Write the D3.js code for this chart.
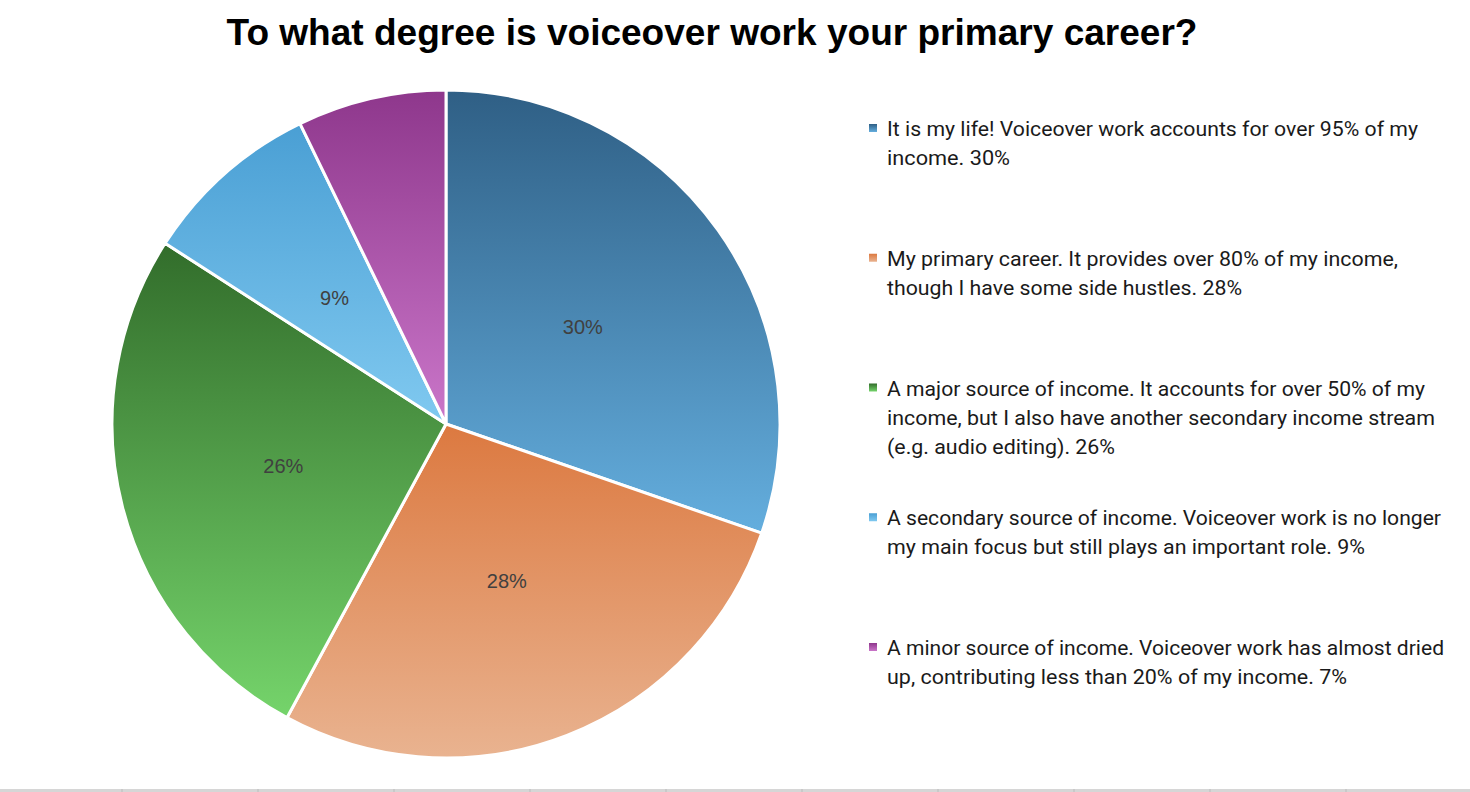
<!DOCTYPE html>
<html><head><meta charset="utf-8">
<script src="https://cdn.jsdelivr.net/npm/d3@7"></script>
<style>html,body{margin:0;padding:0;background:#fff;overflow:hidden}</style>
</head><body><svg id="chart" width="1470" height="792"></svg>
<script>
const title = "To what degree is voiceover work your primary career?";
const categories = [
  "It is my life! Voiceover work accounts for over 95% of my income.",
  "My primary career. It provides over 80% of my income, though I have some side hustles.",
  "A major source of income. It accounts for over 50% of my income, but I also have another secondary income stream (e.g. audio editing).",
  "A secondary source of income. Voiceover work is no longer my main focus but still plays an important role.",
  "A minor source of income. Voiceover work has almost dried up, contributing less than 20% of my income."
];
const values = [30.3, 27.6, 26.2, 8.7, 7.2];
const valueLabels = ["30%", "28%", "26%", "9%", "7%"];
const showLabel = [true, true, true, true, false];
const legendLines = [
  ["It is my life! Voiceover work accounts for over 95% of my", "income. 30%"],
  ["My primary career. It provides over 80% of my income,", "though I have some side hustles. 28%"],
  ["A major source of income. It accounts for over 50% of my", "income, but I also have another secondary income stream", "(e.g. audio editing). 26%"],
  ["A secondary source of income. Voiceover work is no longer", "my main focus but still plays an important role. 9%"],
  ["A minor source of income. Voiceover work has almost dried", "up, contributing less than 20% of my income. 7%"]
];
const legendLineEnds = [[1418, 1010], [1398, 1242], [1425, 1435, 1115], [1441, 1365], [1444, 1347]];
const gradTop = ["#2f5f85", "#dc7940", "#326d2b", "#4a9fd4", "#8e378c"];
const gradBottom = ["#64aede", "#e9b390", "#75d46b", "#80c9f0", "#ca76c9"];

const svg = d3.select("#chart");
const cx = 446, cy = 424, R = 334;

// gradients
const defs = svg.append("defs");
gradTop.forEach((c, i) => {
  const g = defs.append("linearGradient").attr("id", "g" + i)
    .attr("x1", 0).attr("y1", 0).attr("x2", 0).attr("y2", 1);
  g.append("stop").attr("offset", "0%").attr("stop-color", c);
  g.append("stop").attr("offset", "100%").attr("stop-color", gradBottom[i]);
});

// title
svg.append("text").attr("x", 712).attr("y", 45)
  .attr("text-anchor", "middle")
  .attr("font-family", "Liberation Sans, Arial, sans-serif")
  .attr("font-weight", "bold").attr("font-size", 37)
  .attr("textLength", 971).attr("lengthAdjust", "spacingAndGlyphs")
  .attr("fill", "#000").text(title);

// pie
const pie = d3.pie().sort(null).value(d => d)(values);
const arc = d3.arc().innerRadius(0).outerRadius(R);
const labelArc = d3.arc().innerRadius(168).outerRadius(168);
const g = svg.append("g").attr("transform", `translate(${cx},${cy})`);
g.selectAll("path.slice").data(pie).join("path")
  .attr("class", "slice")
  .attr("d", arc)
  .attr("fill", (d, i) => `url(#g${i})`)
  .attr("stroke", "#fff").attr("stroke-width", 3).attr("stroke-linejoin", "round");

g.selectAll("text.lbl").data(pie.filter((d, i) => showLabel[i])).join("text")
  .attr("class", "lbl")
  .attr("transform", d => `translate(${labelArc.centroid(d)})`)
  .attr("text-anchor", "middle").attr("dominant-baseline", "central")
  .attr("font-family", "Liberation Sans, Arial, sans-serif")
  .attr("font-size", 20).attr("fill", "#404040")
  .text(d => valueLabels[d.index]);

// legend
const legY = d3.scalePoint().domain(d3.range(categories.length)).range([136, 655]);
const leg = svg.append("g");
categories.forEach((c, i) => {
  const y0 = legY(i);
  leg.append("rect").attr("x", 869).attr("y", y0 - 12).attr("width", 8).attr("height", 8)
    .attr("fill", `url(#g${i})`);
  legendLines[i].forEach((line, j) => {
    leg.append("text").attr("x", 887).attr("y", y0 + j * 29)
      .attr("font-family", "Roboto, 'Open Sans', sans-serif")
      .attr("font-size", 20).attr("fill", "#1a1a1a")
      .attr("textLength", legendLineEnds[i][j] - 887).attr("lengthAdjust", "spacingAndGlyphs")
      .text(line);
  });
});

// sheet gridline strip at bottom
svg.append("rect").attr("x", 0).attr("y", 789).attr("width", 1470).attr("height", 3).attr("fill", "#d6d6d6");
const gridX = d3.range(122, 1470, 136);
svg.selectAll("line.grid").data(gridX).join("line").attr("class", "grid")
  .attr("x1", d => d).attr("x2", d => d).attr("y1", 789).attr("y2", 792)
  .attr("stroke", "#bcbcbc").attr("stroke-width", 1);
</script></body></html>
